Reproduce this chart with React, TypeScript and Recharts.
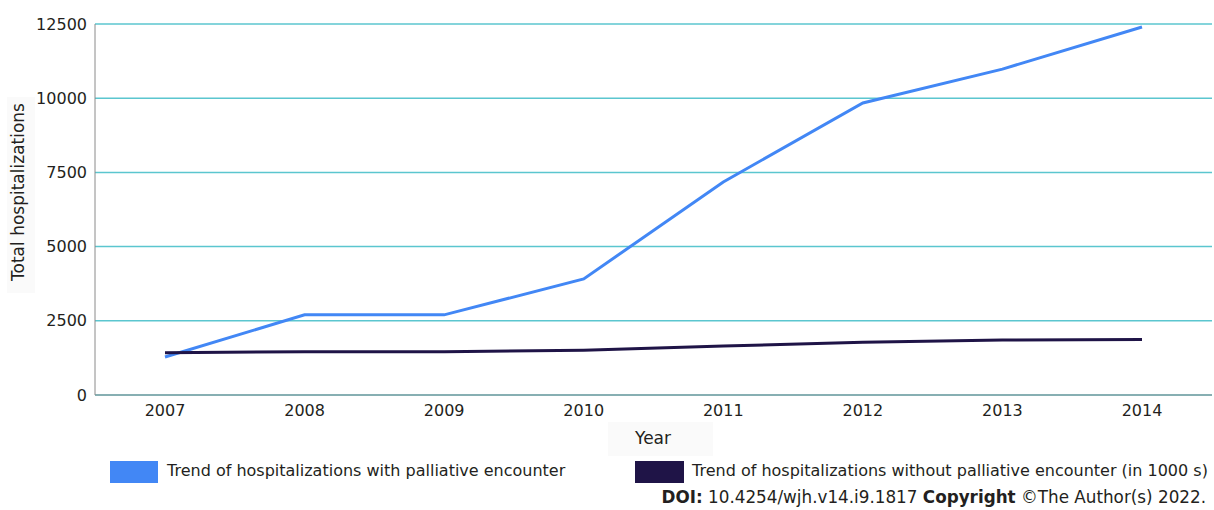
import React from 'react';
import { LineChart, Line, XAxis, YAxis, CartesianGrid } from 'recharts';

const years = ['2007', '2008', '2009', '2010', '2011', '2012', '2013', '2014'];
const withPalliative = [1280, 2700, 2700, 3910, 7180, 9840, 10980, 12400];
const withoutPalliative = [1420, 1460, 1460, 1510, 1650, 1780, 1850, 1870];
const yTicks = [0, 2500, 5000, 7500, 10000, 12500];

const data = years.map((year, i) => ({
  year,
  withPal: withPalliative[i],
  withoutPal: withoutPalliative[i],
}));

const FONT = '"DejaVu Sans", Tahoma, sans-serif';
const TEXT = '#231f20';
const BLUE = '#4287f5';
const NAVY = '#1f1447';

const YLabel = (props: any) => {
  const cx = 18;
  const cy = 192;
  return (
    <g>
      <rect x={7} y={97} width={28} height={196} fill="#fafafa" />
      <text
        x={cx}
        y={cy}
        transform={`rotate(-90 ${cx} ${cy})`}
        textAnchor="middle"
        dominantBaseline="central"
        fontFamily={FONT}
        fontSize={17}
        fill={TEXT}
      >
        Total hospitalizations
      </text>
    </g>
  );
};

const XLabel = (props: any) => (
  <g>
    <rect x={608} y={422} width={105} height={34} fill="#fafafa" />
    <text x={635} y={444} fontFamily={FONT} fontSize={17} fill={TEXT}>
      Year
    </text>
  </g>
);

const LegendBox = () => (
  <div style={{ position: 'absolute', left: 0, top: 0, width: 1214, height: 510, pointerEvents: 'none', fontFamily: FONT, fontSize: 16, color: TEXT }}>
    <div style={{ position: 'absolute', left: 110, top: 461, width: 48, height: 22, background: BLUE }} />
    <div style={{ position: 'absolute', left: 167, top: 461, whiteSpace: 'nowrap' }}>
      Trend of hospitalizations with palliative encounter
    </div>
    <div style={{ position: 'absolute', left: 635, top: 461, width: 49, height: 22, background: NAVY }} />
    <div style={{ position: 'absolute', left: 692, top: 461, whiteSpace: 'nowrap', fontSize: 16 }}>
      Trend of hospitalizations without palliative encounter (in 1000 s)
    </div>
    <div style={{ position: 'absolute', right: 8, top: 487, whiteSpace: 'nowrap', fontSize: 16.8 }}>
      <b>DOI:</b> 10.4254/wjh.v14.i9.1817 <b>Copyright</b> ©The Author(s) 2022.
    </div>
  </div>
);

export default function App() {
  return (
    <div style={{ position: 'absolute', left: 0, top: 0, width: 1214, height: 510, background: '#fff' }}>
      <LineChart
        width={1214}
        height={510}
        data={data}
        margin={{ top: 24, right: 2, left: 0, bottom: 85 }}
      >
        <CartesianGrid vertical={false} stroke="#5bc6cf" strokeWidth={1.5} />
        <XAxis
          dataKey="year"
          height={30}
          stroke="#8a8a8a"
          tickLine={false}
          padding={{ left: 70, right: 70 }}
          tick={{ fill: TEXT, fontFamily: FONT, fontSize: 16 }}
          tickMargin={4}
          label={<XLabel />}
        />
        <YAxis
          width={95}
          domain={[0, 12500]}
          ticks={yTicks}
          stroke="#8a8a8a"
          tickLine={false}
          tick={{ fill: TEXT, fontFamily: FONT, fontSize: 16 }}
          tickMargin={2}
          label={<YLabel />}
        />
        <Line
          dataKey="withPal"
          stroke={BLUE}
          strokeWidth={3}
          dot={false}
          isAnimationActive={false}
        />
        <Line
          dataKey="withoutPal"
          stroke={NAVY}
          strokeWidth={3}
          dot={false}
          isAnimationActive={false}
        />
      </LineChart>
      <LegendBox />
    </div>
  );
}
